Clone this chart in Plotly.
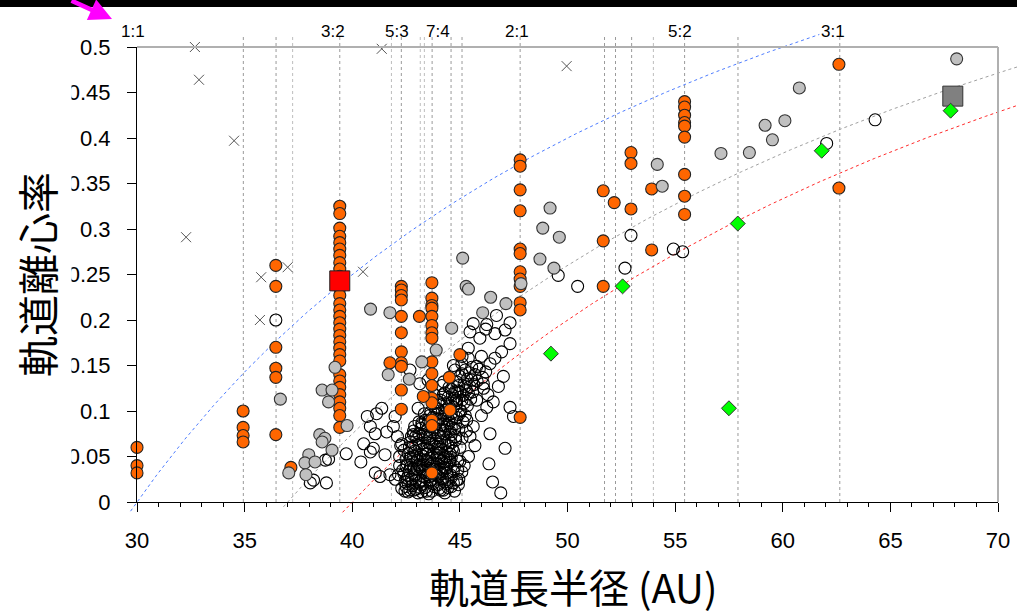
import numpy as np
import plotly.graph_objects as go

# ---------------- data ----------------
open_pts = [
    (38.05,0.021),(38.8,0.021),(38.2,0.024),(38.75,0.046),(39.72,0.053),(40.53,0.064),(40.84,0.055),
    (40.4,0.044),(40.7,0.094),(40.84,0.083),(41.07,0.075),(41.07,0.032),(36.45,0.200),(38.9,0.047),
    (41.52,0.052),(41.75,0.030),(41.29,0.028),(40.98,0.059),(41.13,0.097),(41.37,0.103),(41.99,0.094),
    (41.91,0.083),(41.6,0.077),(43.06,0.103),(43.23,0.087),(42.84,0.074),(42.3,0.064),(43.77,0.108),
    (44.23,0.118),(44.85,0.112),(45.0,0.101),(43.52,0.134),(43.14,0.130),(42.68,0.145),(44.77,0.145),
    (45.09,0.152),(45.39,0.158),(46.0,0.160),(46.63,0.158),(45.62,0.196),(45.47,0.187),(46.25,0.195),
    (46.63,0.185),(47.1,0.189),(47.33,0.174),(45.93,0.180),(45.39,0.169),(46.94,0.165),(46.4,0.152),
    (45.78,0.149),(45.24,0.145),(47.02,0.138),(46.79,0.127),(46.09,0.130),(45.47,0.127),(44.77,0.121),
    (44.16,0.128),(45.78,0.112),(46.55,0.110),(46.25,0.104),(47.33,0.104),(47.49,0.094),(46.4,0.075),
    (47.1,0.059),(46.35,0.042),(46.52,0.022),(46.9,0.010),(44.93,0.019),(45.09,0.033),(45.47,0.072),
    (45.32,0.090),(45.62,0.083),(44.54,0.046),(44.23,0.013),(43.23,0.011),(42.68,0.013),
    (46.7,0.205),(47.33,0.197),(46.2,0.190),
    (49.57,0.249),(50.47,0.237),(52.95,0.293),(52.67,0.257),(54.92,0.278),(55.35,0.275),(64.29,0.420),
    (62.04,0.394),
    # dense classical core
    (42.45,0.012),(42.8,0.018),(43.05,0.010),(43.4,0.016),(43.7,0.012),(44.0,0.019),(44.3,0.010),(44.6,0.017),
    (42.55,0.026),(42.9,0.029),(43.2,0.024),(43.5,0.030),(43.85,0.026),(44.15,0.031),(44.45,0.025),(42.35,0.035),
    (42.7,0.038),(43.0,0.036),(43.3,0.041),(43.6,0.037),(43.95,0.042),(44.25,0.038),(44.55,0.044),(42.5,0.047),
    (42.85,0.050),(43.15,0.047),(43.45,0.053),(43.75,0.049),(44.05,0.054),(44.35,0.050),(44.7,0.056),(42.65,0.060),
    (42.95,0.063),(43.25,0.058),(43.55,0.065),(43.85,0.061),(44.15,0.066),(44.45,0.062),(44.8,0.068),(42.75,0.072),
    (43.1,0.075),(43.4,0.071),(43.7,0.077),(44.0,0.073),(44.3,0.079),(44.6,0.074),(44.95,0.080),(43.25,0.085),
    (43.55,0.089),(43.9,0.086),(44.2,0.091),(44.5,0.087),(44.85,0.093),(45.15,0.088),(43.65,0.099),(44.0,0.102),
    (44.35,0.098),(44.7,0.104),(45.05,0.100),(45.35,0.106),(44.1,0.112),(44.45,0.115),(44.8,0.111),(45.15,0.117),
    (45.5,0.113),(44.6,0.124),(44.95,0.128),(45.3,0.123),(45.65,0.129),(45.0,0.138),(45.35,0.135),(45.7,0.140),
    (46.05,0.137),(45.55,0.148),(45.9,0.146),(46.2,0.143),(42.6,0.020),(43.3,0.028),(43.9,0.034),(44.4,0.032),
    (42.4,0.057),(43.6,0.022),(44.15,0.045),(42.9,0.083),(43.35,0.097),(43.8,0.118),(44.25,0.132),(44.7,0.150),
    (45.1,0.160),(46.3,0.118),(46.0,0.095),(45.7,0.062),(45.4,0.050),(45.2,0.040),(45.0,0.060),(44.9,0.035),
    (42.2,0.040),(42.1,0.072),(42.0,0.025),(43.0,0.052),(43.5,0.045),(44.0,0.058),(44.6,0.082),(45.3,0.078),
    (42.3,0.015),(42.6,0.011),(42.95,0.014),(43.2,0.019),(43.55,0.009),(43.8,0.017),(44.1,0.013),(44.45,0.016),
    (44.75,0.012),(42.45,0.022),(42.75,0.025),(43.1,0.021),(43.4,0.027),(43.65,0.024),(44.0,0.028),(44.3,0.022),
    (44.6,0.027),(44.85,0.024),(42.4,0.031),(42.65,0.034),(42.95,0.031),(43.25,0.035),(43.55,0.032),(43.8,0.036),
    (44.1,0.033),(44.35,0.037),(44.7,0.034),(42.55,0.042),(42.8,0.045),(43.1,0.041),(43.4,0.046),(43.7,0.043),
    (44.0,0.047),(44.3,0.044),(44.6,0.049),(44.9,0.045),(42.6,0.053),(42.9,0.056),(43.2,0.052),(43.5,0.057),
    (43.8,0.054),(44.1,0.058),(44.4,0.055),(44.65,0.059),(42.7,0.066),(43.0,0.069),(43.3,0.065),(43.6,0.070),
    (43.9,0.067),(44.2,0.071),(44.5,0.068),(44.8,0.072),(42.85,0.078),(43.2,0.081),(43.5,0.079),(43.8,0.082),
    (44.1,0.080),(44.4,0.084),(44.75,0.081),(43.4,0.090),(43.75,0.093),(44.05,0.091),(44.35,0.095),(44.65,0.092),
    (44.95,0.096),(43.85,0.104),(44.15,0.107),(44.5,0.105),(44.85,0.108),(45.2,0.109),(44.3,0.120),(44.65,0.118),
    (45.0,0.121),(45.4,0.119),(44.85,0.132),(45.2,0.130),(45.55,0.134),(42.2,0.050),(42.15,0.030),(42.25,0.062),
    (45.0,0.045),(45.1,0.070),(44.95,0.025),
    (42.5,0.017),(42.85,0.013),(43.15,0.016),(43.45,0.012),(43.75,0.020),(44.05,0.015),(44.4,0.020),(44.7,0.021),
    (42.6,0.029),(42.95,0.024),(43.3,0.033),(43.6,0.028),(43.9,0.030),(44.2,0.026),(44.55,0.030),
    (42.5,0.039),(42.85,0.036),(43.15,0.038),(43.45,0.035),(43.75,0.040),(44.05,0.036),(44.4,0.041),(44.75,0.039),
    (42.7,0.049),(43.0,0.046),(43.3,0.050),(43.6,0.048),(43.95,0.051),(44.25,0.048),(44.55,0.053),
    (42.8,0.060),(43.1,0.062),(43.4,0.059),(43.7,0.063),(44.0,0.061),(44.3,0.064),(44.6,0.065),
    (42.95,0.072),(43.3,0.074),(43.6,0.073),(43.95,0.076),(44.25,0.075),(44.55,0.077),
    (43.1,0.088),(43.45,0.084),(43.8,0.088),(44.15,0.085),(44.5,0.090),(44.8,0.086),
    (43.6,0.095),(43.95,0.097),(44.3,0.101),(44.6,0.097),(45.25,0.095),
    (44.0,0.110),(44.4,0.109),(44.75,0.114),(45.1,0.112),
    (44.5,0.126),(44.9,0.122),(45.25,0.127),(45.6,0.121),
    (45.1,0.141),(45.45,0.142),(45.8,0.133),(46.1,0.125),
]
open_a = [p[0] for p in open_pts]
open_e = [p[1] for p in open_pts]

grey_pts = [
    (36.66,0.113),(38.6,0.123),(39.06,0.123),(38.9,0.110),(39.76,0.084),(39.2,0.148),(40.85,0.212),
    (41.75,0.208),(38.49,0.074),(38.73,0.070),(38.6,0.066),(39.06,0.057),(37.98,0.052),(37.8,0.043),
    (38.27,0.044),(37.85,0.030),(37.05,0.032),(45.13,0.268),(45.29,0.237),(45.4,0.234),(44.62,0.191),
    (46.43,0.225),(46.06,0.208),(47.14,0.218),(47.84,0.240),(49.19,0.323),(48.85,0.301),(49.62,0.291),
    (48.72,0.267),(49.37,0.257),(43.9,0.167),(43.23,0.154),(42.65,0.135),(41.67,0.140),(54.4,0.347),
    (54.17,0.371),(57.13,0.383),(58.45,0.384),(59.18,0.414),(59.52,0.398),(60.1,0.419),(60.77,0.455),
    (68.08,0.487),
]
grey_a = [p[0] for p in grey_pts]
grey_e = [p[1] for p in grey_pts]

res_32 = [0.325,0.317,0.301,0.292,0.285,0.278,0.271,0.263,0.256,0.248,0.235,0.227,0.218,0.211,0.204,
          0.197,0.190,0.183,0.176,0.169,0.162,0.155,0.140,0.133,0.126,0.118,0.110,0.103,0.095,0.082]
orange_pts = (
    [(30.0,0.060),(30.0,0.040),(30.0,0.032),
     (34.93,0.100),(34.93,0.082),(34.93,0.073),(34.93,0.066),
     (36.45,0.260),(36.45,0.237),(36.45,0.170),(36.45,0.147),(36.45,0.137),(36.45,0.074),
     (37.15,0.038)]
    + [(39.42, e) for e in res_32]
    + [(42.28,e) for e in [0.237,0.233,0.227,0.222,0.204,0.186,0.165,0.153,0.149,0.123,0.102]]
    + [(41.75,0.153),(43.12,0.204)]
    + [(43.7,e) for e in [0.241,0.224,0.216,0.213,0.204,0.194,0.186,0.180,0.154,0.141,0.128,0.114,0.109,0.090,0.084,0.032]]
    + [(45.0,0.162),(44.51,0.137),(43.3,0.116),(44.54,0.101),(47.8,0.093)]
    + [(47.8,e) for e in [0.376,0.369,0.343,0.320,0.278,0.273,0.253,0.245,0.237,0.219,0.211]]
    + [(51.66,0.237),(51.66,0.287),(51.66,0.342),(52.17,0.329),(52.95,0.384),(52.95,0.372),(52.95,0.322),
       (53.91,0.344),(53.91,0.277)]
    + [(55.44,e) for e in [0.440,0.434,0.425,0.417,0.413,0.401,0.360,0.336,0.316]]
    + [(62.61,0.481),(62.61,0.345)]
)
orange_a = [p[0] for p in orange_pts]
orange_e = [p[1] for p in orange_pts]

cross_a = [32.69,32.88,34.51,32.28,35.77,37.0,35.71,40.5,41.37,49.96]
cross_e = [0.500,0.464,0.397,0.291,0.247,0.258,0.200,0.253,0.498,0.479]

green_a = [49.23,52.56,57.91,57.5,61.81,67.8]
green_e = [0.163,0.237,0.306,0.103,0.386,0.430]

pluto_a, pluto_e = [39.42], [0.243]
eris_a, eris_e = [67.9], [0.446]

res_lines_dark = [34.94,36.46,39.42,42.28,43.71,44.59,45.1,47.8,51.72,52.23,52.98,55.44,57.92,62.65]
res_lines_light = [37.23,41.82,43.16,43.35,53.99]
res_label_text = ["1:1","3:2","5:3","7:4","2:1","5:2","3:1"]
res_label_x = [29.81,39.1,42.1,43.98,47.64,55.23,62.33]

perihelion_q = [30, 37, 40]
curve_a_start = [29.7, 36.8, 39.55]
curve_a_end = [61.7, 71.0, 71.0]
curve_colors = ["#4d7cff", "#a0a0a0", "#ff2a2a"]

xticks = [30,35,40,45,50,55,60,65,70]
yticks = [0,0.05,0.1,0.15,0.2,0.25,0.3,0.35,0.4,0.45,0.5]
yticklabels = ["0","0.05","0.1","0.15","0.2","0.25","0.3","0.35","0.4","0.45","0.5"]

# ---------------- layout geometry ----------------
W, H = 1017, 616
PX0, PX1 = 137, 998
PY0, PY1 = 47, 502
XMIN, XMAX = 30, 70
YMIN, YMAX = 0, 0.5
kx = (XMAX - XMIN) / (PX1 - PX0)
ky = (YMAX - YMIN) / (PY1 - PY0)
big_x = [XMIN - PX0 * kx, XMAX + (W - PX1) * kx]
big_y = [YMIN - (H - PY1) * ky, YMAX + PY0 * ky]
line_top = YMAX + 10 * ky

fig = go.Figure()

for vals, col in [(res_lines_light, "#bdbdbd"), (res_lines_dark, "#9a9a9a")]:
    xs, ys = [], []
    for v in vals:
        xs += [v, v, None]
        ys += [0, line_top, None]
    fig.add_trace(go.Scatter(x=xs, y=ys, mode="lines", xaxis="x", yaxis="y",
                             line=dict(color=col, width=1, dash="3px,3px"),
                             hoverinfo="skip", showlegend=False))

for q, a0, a1, col in zip(perihelion_q, curve_a_start, curve_a_end, curve_colors):
    a = np.linspace(a0, a1, 300)
    e = 1 - q / a
    fig.add_trace(go.Scatter(x=a, y=e, mode="lines", xaxis="x", yaxis="y",
                             line=dict(color=col, width=1, dash="3px,3px"),
                             hoverinfo="skip", showlegend=False))

def pts(x, y, **kw):
    fig.add_trace(go.Scatter(x=x, y=y, mode="markers", xaxis="x2", yaxis="y2",
                             cliponaxis=False, showlegend=False, **kw))

pts(open_a, open_e, marker=dict(symbol="circle-open", size=12, color="black",
                                line=dict(color="black", width=1.1)))
pts(orange_a, orange_e, marker=dict(symbol="circle", size=12, color="#ff6600",
                                    line=dict(color="#222222", width=1.1)))
pts(grey_a, grey_e, marker=dict(symbol="circle", size=12, color="#c0c0c0",
                                line=dict(color="#333333", width=1.1)))
pts(cross_a, cross_e, marker=dict(symbol="x-thin-open", size=10, color="#555555",
                                  line=dict(color="#555555", width=1)))
pts(eris_a, eris_e, marker=dict(symbol="square", size=20, color="#808080",
                                line=dict(color="#333333", width=1)))
pts(green_a, green_e, marker=dict(symbol="diamond", size=11.5, color="#00ff00",
                                  line=dict(color="#333333", width=1)))
pts(pluto_a, pluto_e, marker=dict(symbol="square", size=20, color="#ff0000",
                                  line=dict(color="#222222", width=1)))

tickfont = dict(family="Liberation Sans, Arial, sans-serif", size=22, color="black")

fig.update_layout(
    width=W, height=H, margin=dict(l=0, r=0, t=0, b=0),
    paper_bgcolor="white", plot_bgcolor="rgba(0,0,0,0)",
    xaxis=dict(domain=[0, 1], range=big_x, visible=False, fixedrange=True),
    yaxis=dict(domain=[0, 1], range=big_y, visible=False, fixedrange=True),
    xaxis2=dict(domain=[PX0 / W, PX1 / W], range=[XMIN, XMAX], anchor="y2",
                showgrid=False, zeroline=False, showline=True, linecolor="black", linewidth=1,
                ticks="outside", ticklen=9, tickcolor="black", tickwidth=1,
                tickvals=xticks, ticktext=[str(v) for v in xticks], tickfont=tickfont,
                ticklabelstandoff=10,
                minor=dict(dtick=1, ticks="outside", ticklen=4, tickcolor="black", showgrid=False),
                automargin=False),
    yaxis2=dict(domain=[1 - PY1 / H, 1 - PY0 / H], range=[YMIN, YMAX], anchor="x2",
                showgrid=False, zeroline=False, showline=True, linecolor="black", linewidth=1,
                ticks="outside", ticklen=9, tickcolor="black", tickwidth=1,
                tickvals=yticks, ticktext=yticklabels, tickfont=tickfont,
                ticklabelstandoff=12, automargin=False),
    showlegend=False,
)

shapes = [
    dict(type="line", xref="paper", yref="paper", x0=PX0 / W, x1=PX1 / W, y0=1 - PY0 / H, y1=1 - PY0 / H,
         line=dict(color="#b0b0b0", width=2)),
    dict(type="line", xref="paper", yref="paper", x0=PX1 / W, x1=PX1 / W, y0=1 - PY0 / H, y1=1 - PY1 / H,
         line=dict(color="#b0b0b0", width=2)),
    dict(type="rect", xref="paper", yref="paper", x0=0, x1=71.5 / W, y0=1 - 525 / H, y1=1 - 35 / H,
         fillcolor="white", line=dict(width=0), layer="above"),
    dict(type="rect", xref="paper", yref="paper", x0=0, x1=1, y0=1 - 7 / H, y1=1,
         fillcolor="black", line=dict(width=0), layer="above"),
]
fig.update_layout(shapes=shapes)

ann = []
for t, x in zip(res_label_text, res_label_x):
    ann.append(dict(text=t, x=x, xref="x", y=1 - 31 / H, yref="paper", showarrow=False,
                    xanchor="center", yanchor="middle",
                    font=dict(family="Liberation Sans, Arial, sans-serif", size=17, color="black")))
ann.append(dict(text="軌道長半径 (AU)", x=573 / W, y=1 - 586 / H, xref="paper", yref="paper",
                showarrow=False, xanchor="center", yanchor="middle",
                font=dict(family="Noto Sans CJK JP", size=40, color="black")))
ann.append(dict(text="軌道離心率", x=36 / W, y=1 - 275 / H, xref="paper", yref="paper",
                showarrow=False, xanchor="center", yanchor="middle", textangle=-90,
                font=dict(family="Noto Sans CJK JP", size=41, color="black")))
ann.append(dict(text="", x=112 / W, y=1 - 19 / H, xref="paper", yref="paper",
                showarrow=True, ax=-42, ay=-26, arrowcolor="#ff00ff", arrowwidth=4.5,
                arrowhead=2, arrowsize=1.0))
fig.update_layout(annotations=ann)

fig.write_html("out.html")
